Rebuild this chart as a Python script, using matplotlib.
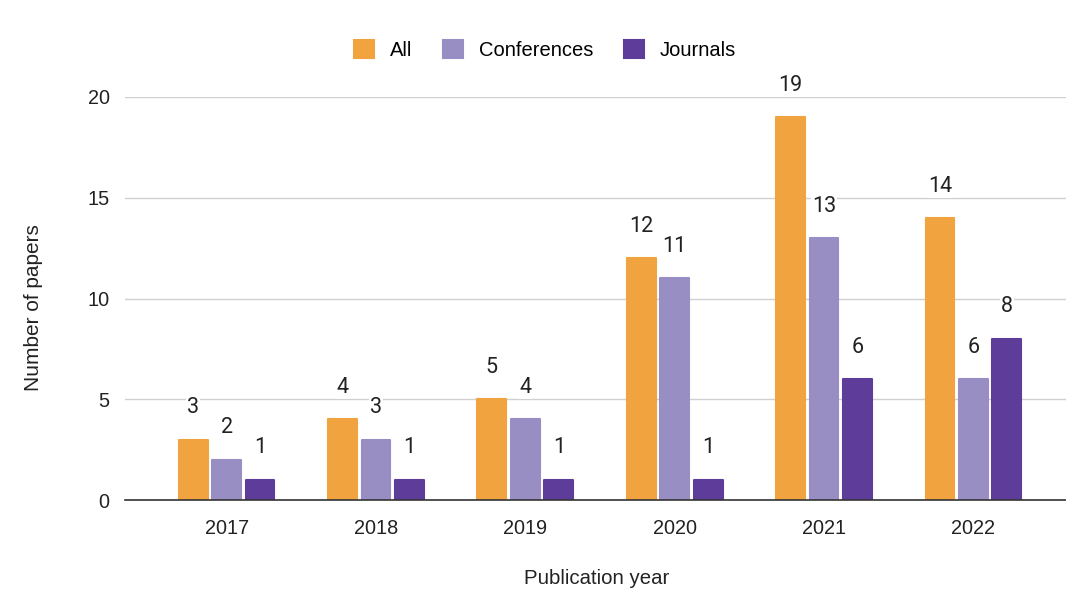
import numpy as np
import matplotlib
matplotlib.use("Agg")
import matplotlib.pyplot as plt

# ==========================================
# DATA
# ==========================================

years = ["2017", "2018", "2019", "2020", "2021", "2022"]
all_papers = [3, 4, 5, 12, 19, 14]
conferences = [2, 3, 4, 11, 13, 6]
journals = [1, 1, 1, 1, 6, 8]

series_names = ["All", "Conferences", "Journals"]
colors = ["#f1a340", "#998ec3", "#5e3c99"]

# ==========================================
# PLOT
# ==========================================

plt.rcParams["font.family"] = ["Liberation Sans", "DejaVu Sans"]

fig = plt.figure(figsize=(10.66, 5.92), dpi=100)
ax = fig.add_axes([125 / 1066, 92 / 592, (1066 - 125) / 1066, (500 - 97) / 592])

x = np.arange(len(years))
width = 0.193
step = 0.224

for i, (vals, name, col) in enumerate(zip([all_papers, conferences, journals], series_names, colors)):
    pos = x + (i - 1) * step
    ax.bar(pos, vals, width=width, color=col, edgecolor=col, linewidth=1.5,
           joinstyle="round", label=name, zorder=3)
    # value labels above each bar
    for p, v in zip(pos, vals):
        ax.annotate(
            str(v), (p, v),
            xytext=(0, 19), textcoords="offset points",
            ha="center", va="baseline", fontsize=15.5, color="#222222",
            family=["Roboto", "DejaVu Sans"],
            bbox=dict(boxstyle="square,pad=0.05", fc="white", ec="none"),
            zorder=4,
        )

ax.set_xlim(-0.68, 5.62)
ax.set_ylim(0, 20)
ax.set_yticks([0, 5, 10, 15, 20])
ax.set_xticks(x)
ax.set_xticklabels(years)

ax.tick_params(axis="both", length=0, labelsize=14.3, colors="#222222")
ax.tick_params(axis="y", pad=11)
ax.tick_params(axis="x", pad=14)

ax.grid(axis="y", color="#d0d0d0", linewidth=1, zorder=0)
ax.set_axisbelow(True)

for side in ["top", "right", "left"]:
    ax.spines[side].set_visible(False)
ax.spines["bottom"].set_color("#333333")
ax.spines["bottom"].set_linewidth(1.2)
ax.spines["bottom"].set_zorder(5)

fig.text(34 / 1066, 1 - 308 / 592, "Number of papers", rotation=90,
         ha="center", va="center", fontsize=15, color="#222222")
fig.text(597 / 1066, 1 - 578 / 592, "Publication year",
         ha="center", va="center", fontsize=14.7, color="#222222")

fig.legend(
    loc="center", bbox_to_anchor=(545 / 1066, 1 - 50 / 592), ncol=3,
    frameon=False, fontsize=14.5, handlelength=1.0, handleheight=1.0,
    handletextpad=0.8, columnspacing=1.5,
)

fig.savefig("out.png", dpi=100)
